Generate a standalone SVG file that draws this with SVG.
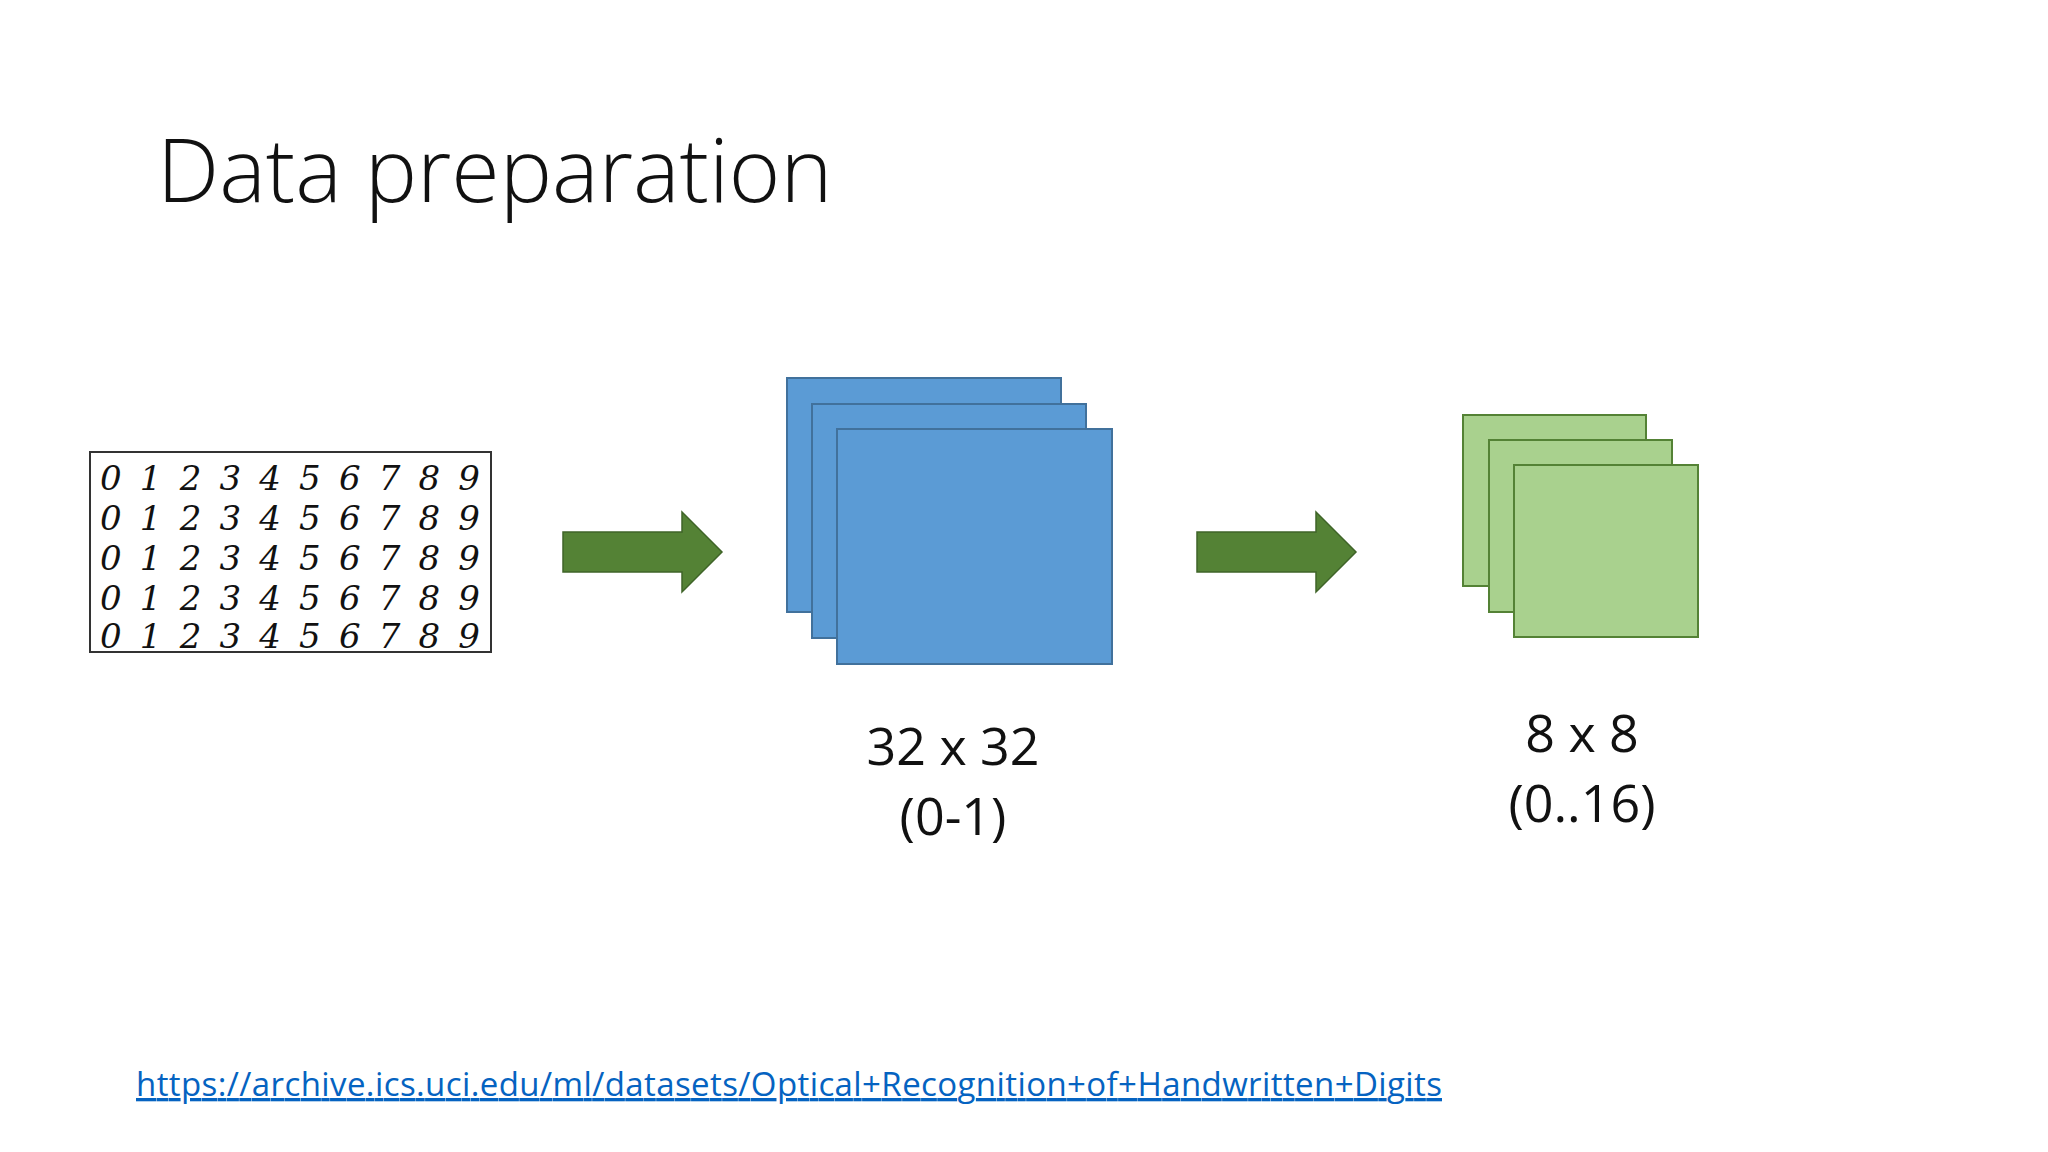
<svg xmlns="http://www.w3.org/2000/svg" width="2048" height="1152" viewBox="0 0 2048 1152">
<style>
.t{font-family:"Open Sans","Liberation Sans",sans-serif;fill:#111}
.d{font-family:"DejaVu Serif","Liberation Serif",serif;font-style:italic;font-size:34px;fill:#111}
.b{fill:#5b9bd5;stroke:#41719c;stroke-width:2}
.g{fill:#a9d18e;stroke:#548235;stroke-width:2}
.ar{fill:#548235;stroke:#3f6428;stroke-width:1.5}
</style>
<rect width="2048" height="1152" fill="#fff"/>
<text class="t" x="157" y="202" font-size="88" font-weight="300">Data preparation</text>
<g id="digits">
<rect x="90" y="452" width="401" height="200" fill="#fff" stroke="#333" stroke-width="2"/>
<text class="d" x="100" y="490" textLength="380">0123456789</text>
<text class="d" x="100" y="530" textLength="380">0123456789</text>
<text class="d" x="100" y="570" textLength="380">0123456789</text>
<text class="d" x="100" y="610" textLength="380">0123456789</text>
<text class="d" x="100" y="648" textLength="380">0123456789</text>
</g>
<g id="connectors">
<polygon class="ar" points="563,532 682,532 682,512 722,552 682,592 682,572 563,572"/>
<polygon class="ar" points="1197,532 1316,532 1316,512 1356,552 1316,592 1316,572 1197,572"/>
</g>
<g id="blue">
<rect class="b" x="787" y="378" width="274" height="234"/>
<rect class="b" x="812" y="404" width="274" height="234"/>
<rect class="b" x="837" y="429" width="275" height="235"/>
<text class="t" x="953" y="765" font-size="52" text-anchor="middle">32 x 32</text>
<text class="t" x="953" y="835" font-size="52" text-anchor="middle">(0-1)</text>
</g>
<g id="green">
<rect class="g" x="1463" y="415" width="183" height="171"/>
<rect class="g" x="1489" y="440" width="183" height="172"/>
<rect class="g" x="1514" y="465" width="184" height="172"/>
<text class="t" x="1582" y="752" font-size="52" text-anchor="middle">8 x 8</text>
<text class="t" x="1582" y="822" font-size="52" text-anchor="middle">(0..16)</text>
</g>
<text x="136" y="1096" font-family="Open Sans, Liberation Sans, sans-serif" font-size="33" fill="#0563c1" text-decoration="underline" textLength="1306">https://archive.ics.uci.edu/ml/datasets/Optical+Recognition+of+Handwritten+Digits</text>
</svg>
